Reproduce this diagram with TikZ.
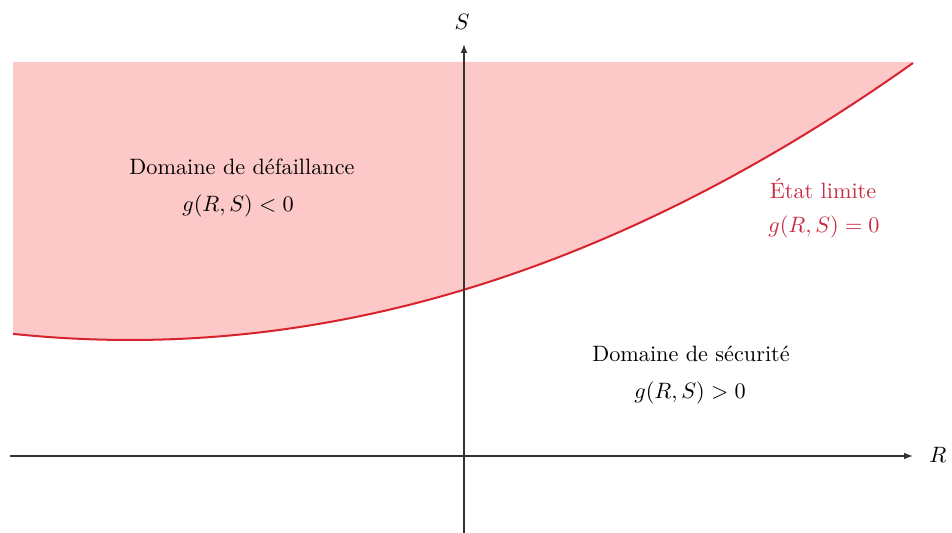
\documentclass[tikz,border=0pt]{standalone}
\usetikzlibrary{arrows.meta}
\definecolor{failfill}{RGB}{252,200,200}
\definecolor{limitred}{RGB}{215,35,45}
\definecolor{labelred}{RGB}{200,45,65}
\begin{document}
\begin{tikzpicture}[x=0.45pt,y=-0.45pt,
  axis/.style={draw=black!80,line width=0.55pt,-{Latex[length=4pt,width=3pt]}},
  limitcurve/.style={draw=limitred,line width=0.9pt},
  region/.style={fill=failfill},
  txt/.style={inner sep=0pt,font=\normalsize},
  redtxt/.style={txt,text=labelred}]
\useasboundingbox (0,0) rectangle (952,533);
% failure region
\path[region] (13,62) -- (13,333.87) .. controls (313,365.3) and (613,275.8) .. (913,62) -- cycle;
% limit state curve
\draw[limitcurve] (13,333.87) .. controls (313,365.3) and (613,275.8) .. (913,63);
% axes
\coordinate (xs) at (10,456);
\coordinate (xe) at (913,456);
\coordinate (ys) at (464,533);
\coordinate (ye) at (464,44);
\draw[axis] (xs) -- (xe);
\draw[axis] (ys) -- (ye);
\node[txt] (Rlab) at (938,455) {$R$};
\node[txt] (Slab) at (462,22) {$S$};
% labels
\node[txt] (d1) at (242,167) {Domaine de défaillance};
\node[txt] (d2) at (238,206) {$g(R,S)<0$};
\node[redtxt] (e1) at (823,189) {État limite};
\node[redtxt] (e2) at (824,227) {$g(R,S)=0$};
\node[txt] (s1) at (691,354) {Domaine de sécurité};
\node[txt] (s2) at (690,393) {$g(R,S)>0$};
\end{tikzpicture}
\end{document}
